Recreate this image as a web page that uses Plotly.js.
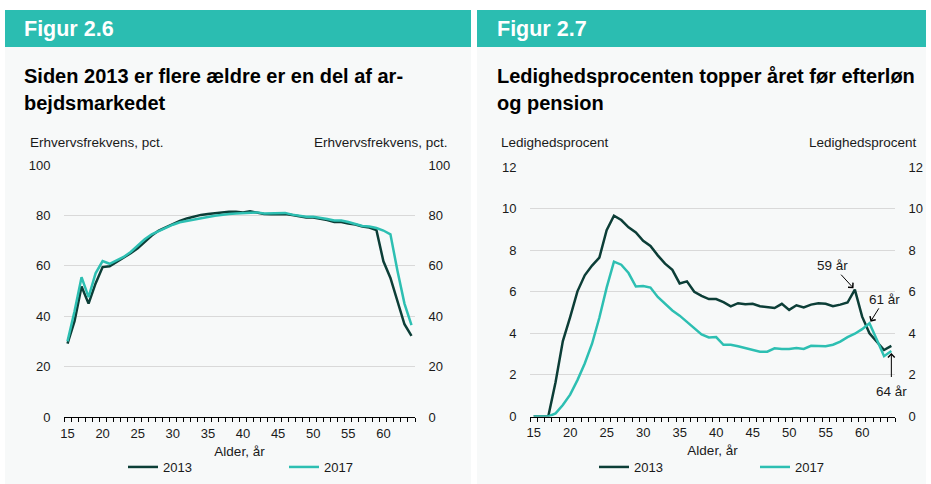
<!DOCTYPE html>
<html>
<head>
<meta charset="utf-8">
<script src="https://cdn.plot.ly/plotly-3.0.1.min.js"></script>
<style>html,body{margin:0;padding:0;background:#fff;}#chart{width:931px;height:484px;}</style>
</head>
<body>
<div id="chart"></div>
<script>
// Alder, år
const ages = [15,16,17,18,19,20,21,22,23,24,25,26,27,28,29,30,31,32,33,34,35,36,37,38,39,40,41,42,43,44,45,46,47,48,49,50,51,52,53,54,55,56,57,58,59,60,61,62,63,64];
// Figur 2.6 – Erhvervsfrekvens, pct.
const erhverv2013 = [29.1,38,51.8,45,53,59.5,59.8,61.5,63.5,65,67,69.5,72,74,75.3,76.5,77.8,78.8,79.6,80.2,80.6,80.9,81.3,81.4,81.4,81.2,81.6,81.2,80.6,80.5,80.6,80.6,80.2,79.8,79.2,79.2,78.8,78.2,77.4,77.4,76.8,76.4,75.6,75.2,74.2,61.8,55.2,45.5,36.8,32.2];
const erhverv2017 = [30,42,55.5,47.6,57,61.9,60.8,62,63.5,65.5,68,70.5,72.5,73.8,75,76.3,77.3,77.9,78.4,78.9,79.4,79.9,80.4,80.6,80.8,81,81,81.2,80.8,80.8,81.1,81,80.3,79.8,79.5,79.5,79.2,78.6,78,78,77.4,76.6,75.8,75.6,75,74,72.5,58,45,36.5];
// Figur 2.7 – Ledighedsprocent
const ledig2013 = [0,0,0,1.65,3.63,4.78,6.02,6.79,7.26,7.64,8.96,9.66,9.45,9.1,8.85,8.45,8.2,7.75,7.35,7.05,6.4,6.5,6.0,5.8,5.65,5.65,5.5,5.3,5.45,5.4,5.42,5.3,5.27,5.22,5.42,5.13,5.35,5.25,5.38,5.45,5.42,5.3,5.38,5.48,6.1,4.8,4.0,3.6,3.2,3.4];
const ledig2017 = [0,0,0,0.15,0.55,1.05,1.75,2.55,3.5,4.75,6.2,7.45,7.3,6.9,6.25,6.28,6.2,5.75,5.4,5.1,4.85,4.55,4.25,3.95,3.8,3.82,3.45,3.45,3.38,3.3,3.2,3.12,3.12,3.28,3.25,3.25,3.3,3.25,3.4,3.4,3.38,3.45,3.6,3.82,3.98,4.2,4.48,3.7,2.9,3.15];
const seriesNames = ['2013','2017'];
const yTicksLeft = [0,20,40,60,80,100];
const yTicksRight = [0,2,4,6,8,10,12];

const W = 931, H = 484;
const px = v => v / W;
const py = v => 1 - v / H;
const FONT = 'Liberation Sans, Arial, sans-serif';
const DARK = '#0c3e37';
const TEAL = '#2dbfb2';
const HEAD = '#2bbdb1';
const PANEL = '#f7f9f9';
const TXT = '#1a1a1a';

const traces = [
  {x: ages, y: erhverv2013, name: seriesNames[0], xaxis: 'x', yaxis: 'y', type: 'scatter', mode: 'lines', line: {color: DARK, width: 2.5}, legend: 'legend'},
  {x: ages, y: erhverv2017, name: seriesNames[1], xaxis: 'x', yaxis: 'y', type: 'scatter', mode: 'lines', line: {color: TEAL, width: 2.5}, legend: 'legend'},
  {x: ages, y: ledig2013, name: seriesNames[0], xaxis: 'x2', yaxis: 'y2', type: 'scatter', mode: 'lines', line: {color: DARK, width: 2.5}, legend: 'legend2'},
  {x: ages, y: ledig2017, name: seriesNames[1], xaxis: 'x2', yaxis: 'y2', type: 'scatter', mode: 'lines', line: {color: TEAL, width: 2.5}, legend: 'legend2'},
  // empty helper traces so the mirrored right-hand value axes are drawn
  {x: [], y: [], xaxis: 'x', yaxis: 'y3', type: 'scatter', mode: 'lines', showlegend: false, hoverinfo: 'skip'},
  {x: [], y: [], xaxis: 'x2', yaxis: 'y4', type: 'scatter', mode: 'lines', showlegend: false, hoverinfo: 'skip'}
];

function xAxis(d0, d1, anchor) {
  return {
    domain: [px(d0), px(d1)], anchor: anchor, range: [14.5, 64.5], fixedrange: true,
    tickmode: 'linear', tick0: 15, dtick: 5, ticks: 'outside', ticklen: 4, tickcolor: 'rgba(0,0,0,0)',
    showgrid: false, zeroline: false, showline: true, linecolor: '#000', linewidth: 1,
    tickfont: {family: FONT, size: 13, color: TXT},
    minor: {tickmode: 'linear', tick0: 14.5, dtick: 1, ticks: 'outside', ticklen: 4, tickcolor: '#000', tickwidth: 1, showgrid: false},
    title: {text: 'Alder, år', font: {family: FONT, size: 13.5, color: TXT}, standoff: 6}
  };
}
function yAxis(d0, d1, anchor, ticks, rng, side, overlay) {
  const a = {
    domain: [py(d0), py(d1)], anchor: anchor, range: rng, fixedrange: true,
    tickmode: 'array', tickvals: ticks, ticks: 'outside', ticklen: 10, tickcolor: 'rgba(0,0,0,0)',
    showgrid: !overlay, gridcolor: '#d9d9d9', gridwidth: 1, zeroline: false, showline: false,
    tickfont: {family: FONT, size: 13, color: TXT}, side: side
  };
  if (overlay) a.overlaying = overlay;
  return a;
}

const ann = [];
function txt(x, y, text, opts) {
  ann.push(Object.assign({xref: 'paper', yref: 'paper', x: px(x), y: py(y), text: text, showarrow: false,
    xanchor: 'left', yanchor: 'middle', font: {family: FONT, size: 13.5, color: TXT}}, opts || {}));
}
// headers
txt(22, 29, '<b>Figur 2.6</b>', {font: {family: FONT, size: 21.5, color: '#fff'}});
txt(495, 29, '<b>Figur 2.7</b>', {font: {family: FONT, size: 21.5, color: '#fff'}});
// titles
txt(22, 76, '<b>Siden 2013 er flere ældre er en del af ar-</b>', {font: {family: FONT, size: 20, color: '#000'}});
txt(22, 103, '<b>bejdsmarkedet</b>', {font: {family: FONT, size: 20, color: '#000'}});
txt(495, 76, '<b>Ledighedsprocenten topper året før efterløn</b>', {font: {family: FONT, size: 20, color: '#000'}});
txt(495, 103, '<b>og pension</b>', {font: {family: FONT, size: 20, color: '#000'}});
// axis unit labels
txt(28, 142, 'Erhvervsfrekvens, pct.');
txt(450, 142, 'Erhvervsfrekvens, pct.', {xanchor: 'right'});
txt(499, 142, 'Ledighedsprocent');
txt(919, 142, 'Ledighedsprocent', {xanchor: 'right'});
// callouts
const arrowStyle = {xref: 'x2', yref: 'y2', showarrow: true, arrowhead: 4, arrowsize: 1.3, arrowwidth: 1, arrowcolor: '#000',
  font: {family: FONT, size: 13.5, color: TXT}, standoff: 2};
ann.push(Object.assign({}, arrowStyle, {x: 59, y: ledig2013[44], text: '59 år', ax: -22, ay: -24}));
ann.push(Object.assign({}, arrowStyle, {x: 61, y: ledig2017[46], text: '61 år', ax: 15, ay: -24}));
ann.push(Object.assign({}, arrowStyle, {x: 64, y: ledig2017[49], text: '64 år', ax: 0, ay: 40, borderpad: 6}));

const shapes = [
  {type: 'rect', xref: 'paper', yref: 'paper', x0: px(5), x1: px(471), y0: py(484), y1: py(47), fillcolor: PANEL, line: {width: 0}, layer: 'below'},
  {type: 'rect', xref: 'paper', yref: 'paper', x0: px(477), x1: px(926), y0: py(484), y1: py(47), fillcolor: PANEL, line: {width: 0}, layer: 'below'},
  {type: 'rect', xref: 'paper', yref: 'paper', x0: px(5), x1: px(471), y0: py(47), y1: py(10), fillcolor: HEAD, line: {width: 0}, layer: 'below'},
  {type: 'rect', xref: 'paper', yref: 'paper', x0: px(477), x1: px(926), y0: py(47), y1: py(10), fillcolor: HEAD, line: {width: 0}, layer: 'below'}
];

const legendBase = {orientation: 'h', xanchor: 'left', yanchor: 'middle', bgcolor: 'rgba(0,0,0,0)',
  font: {family: FONT, size: 13, color: TXT}, itemwidth: 30, entrywidthmode: 'pixels', entrywidth: 116, tracegroupgap: 0};

const layout = {
  width: W, height: H, margin: {l: 0, r: 0, t: 0, b: 0},
  paper_bgcolor: '#ffffff', plot_bgcolor: 'rgba(0,0,0,0)',
  showlegend: true,
  xaxis: xAxis(64, 415, 'y'),
  yaxis: yAxis(417, 165, 'x', yTicksLeft, [0, 100], 'left'),
  yaxis3: yAxis(417, 165, 'x', yTicksLeft, [0, 100], 'right', 'y'),
  xaxis2: xAxis(530, 895, 'y2'),
  yaxis2: yAxis(416.5, 167, 'x2', yTicksRight, [0, 12], 'left'),
  yaxis4: yAxis(416.5, 167, 'x2', yTicksRight, [0, 12], 'right', 'y2'),
  legend: Object.assign({}, legendBase, {x: px(123), y: py(467)}),
  legend2: Object.assign({}, legendBase, {x: px(594), y: py(467)}),
  annotations: ann,
  shapes: shapes
};

Plotly.newPlot('chart', traces, layout, {displayModeBar: false, staticPlot: true});
</script>
</body>
</html>
